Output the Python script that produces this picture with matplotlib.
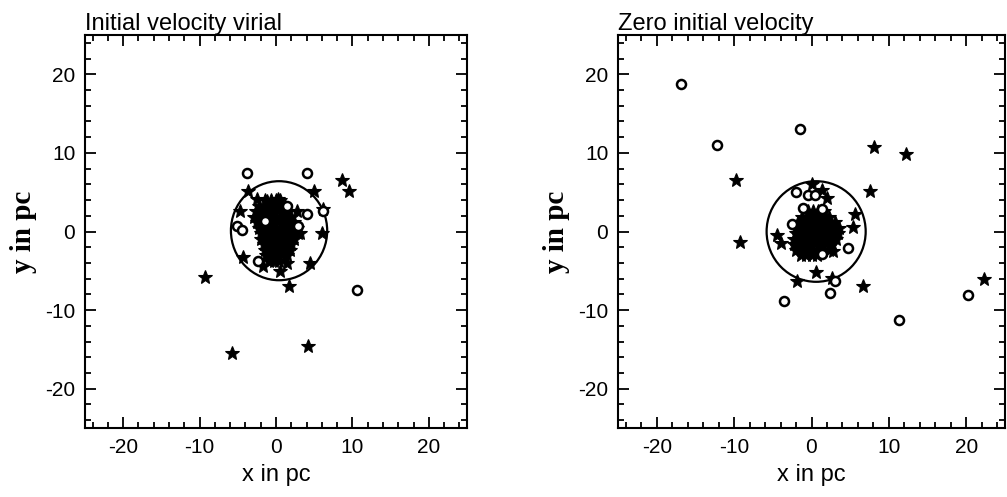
import matplotlib
matplotlib.use("Agg")
import matplotlib.pyplot as plt
from matplotlib.patches import Circle
from matplotlib.ticker import MultipleLocator

# ---------------- data (pc) ----------------
titles = ["Initial velocity virial", "Zero initial velocity"]
tick_values = [-20, -10, 0, 10, 20]
tick_labels = ["-20", "-10", "0", "10", "20"]
xlabel = "x in pc"
ylabel = "y in pc"
axis_range = [-25, 25]

# Left panel: stars (outliers + dense core)
left_star_x = [-9.3, -5.8, 4.2, 8.7, 9.5, 1.7, 6.2, 5.0, -3.6, -2.5, -4.7, 2.7, 3.1, 6.0,
               -4.3, -1.7, -0.8, 1.4, 0.5, 4.5, -1.2, 0.3,
               -1.4, -0.7, 0.0, 0.5,
               -2.2, -1.5, -0.8, -0.1, 0.6, 1.2,
               -2.6, -1.9, -1.2, -0.5, 0.2, 0.9, 1.6,
               -2.9, -2.2, -1.5, -0.8, -0.1, 0.6, 1.3, 2.0,
               -2.5, -1.8, -1.1, -0.4, 0.3, 1.0, 1.7, 2.4,
               -2.2, -1.5, -0.8, -0.1, 0.6, 1.3, 2.0, 2.7,
               -2.0, -1.3, -0.6, 0.1, 0.8, 1.5, 2.2, 2.9,
               -1.9, -1.2, -0.5, 0.2, 0.9, 1.6, 2.3,
               -1.6, -0.9, -0.2, 0.5, 1.2, 1.9,
               -1.5, -0.8, -0.1, 0.6, 1.3, 1.8,
               -1.3, -0.6, 0.1, 0.8, 1.4,
               -0.9, -0.2, 0.4]
left_star_y = [-5.8, -15.5, -14.6, 6.6, 5.1, -6.9, 2.8, 5.1, 5.1, 4.1, 2.6, 2.6, -0.2, -0.2,
               -3.3, -4.4, -3.6, -4.0, -5.0, -4.0, 3.9, 4.1,
               4.0, 4.0, 4.0, 4.0,
               3.3, 3.3, 3.3, 3.3, 3.3, 3.3,
               2.6, 2.6, 2.6, 2.6, 2.6, 2.6, 2.6,
               1.9, 1.9, 1.9, 1.9, 1.9, 1.9, 1.9, 1.9,
               1.2, 1.2, 1.2, 1.2, 1.2, 1.2, 1.2, 1.2,
               0.5, 0.5, 0.5, 0.5, 0.5, 0.5, 0.5, 0.5,
               -0.2, -0.2, -0.2, -0.2, -0.2, -0.2, -0.2, -0.2,
               -0.9, -0.9, -0.9, -0.9, -0.9, -0.9, -0.9,
               -1.6, -1.6, -1.6, -1.6, -1.6, -1.6,
               -2.3, -2.3, -2.3, -2.3, -2.3, -2.3,
               -3.0, -3.0, -3.0, -3.0, -3.0,
               -3.7, -3.7, -3.7]
# Left panel: open circles
left_circ_x = [-3.8, 4.1, 10.6, -5.1, -4.5, 4.0, 2.9, -2.3, 1.4, -1.4, 6.2]
left_circ_y = [7.5, 7.5, -7.5, 0.7, 0.25, 2.2, 0.7, -3.8, 3.2, 1.3, 2.6]
left_ring = (0.4, 0.1, 6.3)   # centre x, centre y, radius

# Right panel: stars
right_star_x = [-9.8, -9.3, 8.1, 12.2, 7.6, 0.1, 1.4, 2.0, 5.6, 5.3, -4.4, -3.9, 0.6, -1.9,
                2.6, 6.6, 22.3, 2.8, -1.9,
                -0.5, 0.2, 0.9, 1.6,
                -1.2, -0.5, 0.2, 0.9, 1.6, 2.3,
                -1.8, -1.1, -0.4, 0.3, 1.0, 1.7, 2.4, 3.0,
                -2.0, -1.3, -0.6, 0.1, 0.8, 1.5, 2.2, 2.9, 3.5,
                -2.0, -1.3, -0.6, 0.1, 0.8, 1.5, 2.2, 2.9, 3.4,
                -2.2, -1.5, -0.8, -0.1, 0.6, 1.3, 2.0, 2.7, 3.2,
                -2.3, -1.6, -0.9, -0.2, 0.5, 1.2, 1.9, 2.6,
                -2.0, -1.3, -0.6, 0.1, 0.8, 1.5, 2.2,
                -1.4, -0.7, 0.0, 0.7]
right_star_y = [6.6, -1.3, 10.7, 9.9, 5.1, 6.0, 5.3, 4.3, 2.2, 0.6, -0.5, -1.5, -5.1, -6.3,
                -5.9, -6.9, -6.0, -2.5, -1.6,
                2.6, 2.6, 2.6, 2.6,
                1.9, 1.9, 1.9, 1.9, 1.9, 1.9,
                1.2, 1.2, 1.2, 1.2, 1.2, 1.2, 1.2, 1.2,
                0.5, 0.5, 0.5, 0.5, 0.5, 0.5, 0.5, 0.5, 0.5,
                -0.2, -0.2, -0.2, -0.2, -0.2, -0.2, -0.2, -0.2, -0.2,
                -0.9, -0.9, -0.9, -0.9, -0.9, -0.9, -0.9, -0.9, -0.9,
                -1.6, -1.6, -1.6, -1.6, -1.6, -1.6, -1.6, -1.6,
                -2.3, -2.3, -2.3, -2.3, -2.3, -2.3, -2.3,
                -3.0, -3.0, -3.0, -3.0]
# Right panel: open circles
right_circ_x = [-16.9, -12.2, -1.5, -2.0, -0.4, 0.4, -1.1, 1.4, -2.5, 4.7, 1.4, 3.1, 2.4,
                -3.5, 11.3, 20.2]
right_circ_y = [18.8, 11.0, 13.0, 5.0, 4.6, 4.6, 3.0, 2.9, 0.9, -2.1, -2.9, -6.3, -7.8,
                -8.9, -11.2, -8.1]
right_ring = (0.6, 0.0, 6.4)

panels = [
    (left_star_x, left_star_y, left_circ_x, left_circ_y, left_ring),
    (right_star_x, right_star_y, right_circ_x, right_circ_y, right_ring),
]

# ---------------- figure ----------------
W, H = 1007, 497
fig = plt.figure(figsize=(W / 100, H / 100), dpi=100)
sans = "Liberation Sans"
serif = "Liberation Serif"

axes_px = [(85, 35, 467, 428), (618, 35, 1005, 428)]  # left, top, right, bottom

for i, (sx, sy, cx, cy, ring) in enumerate(panels):
    l, t, r, b = axes_px[i]
    ax = fig.add_axes([l / W, 1 - b / H, (r - l) / W, (b - t) / H])
    ax.set_xlim(axis_range)
    ax.set_ylim(axis_range)
    ax.add_patch(Circle((ring[0], ring[1]), ring[2], fill=False, ec="black", lw=1.6, zorder=2))
    ax.plot(sx, sy, ls="none", marker="*", ms=10, color="black", mec="black", mew=0.8, zorder=3)
    ax.plot(cx, cy, ls="none", marker="o", ms=6.5, mfc="white", mec="black", mew=1.8, zorder=4)

    ax.set_xticks(tick_values)
    ax.set_xticklabels(tick_labels)
    ax.set_yticks(tick_values)
    ax.set_yticklabels(tick_labels)
    ax.xaxis.set_minor_locator(MultipleLocator(2))
    ax.yaxis.set_minor_locator(MultipleLocator(2))
    ax.tick_params(which="both", direction="in", top=True, right=True, width=1.3, colors="black")
    ax.tick_params(which="major", length=8, labelsize=15, pad=7)
    ax.tick_params(which="minor", length=4)
    for lab in ax.get_xticklabels() + ax.get_yticklabels():
        lab.set_family(sans)
    for sp in ax.spines.values():
        sp.set_linewidth(1.5)

    ax.set_xlabel(xlabel, fontsize=17, family=sans, labelpad=5)
    ax.set_ylabel(ylabel, fontsize=21, family=serif, fontweight="bold", labelpad=6)
    ax.set_title(titles[i], loc="left", fontsize=17, family=sans, pad=3)

fig.savefig("out.png", dpi=100)
